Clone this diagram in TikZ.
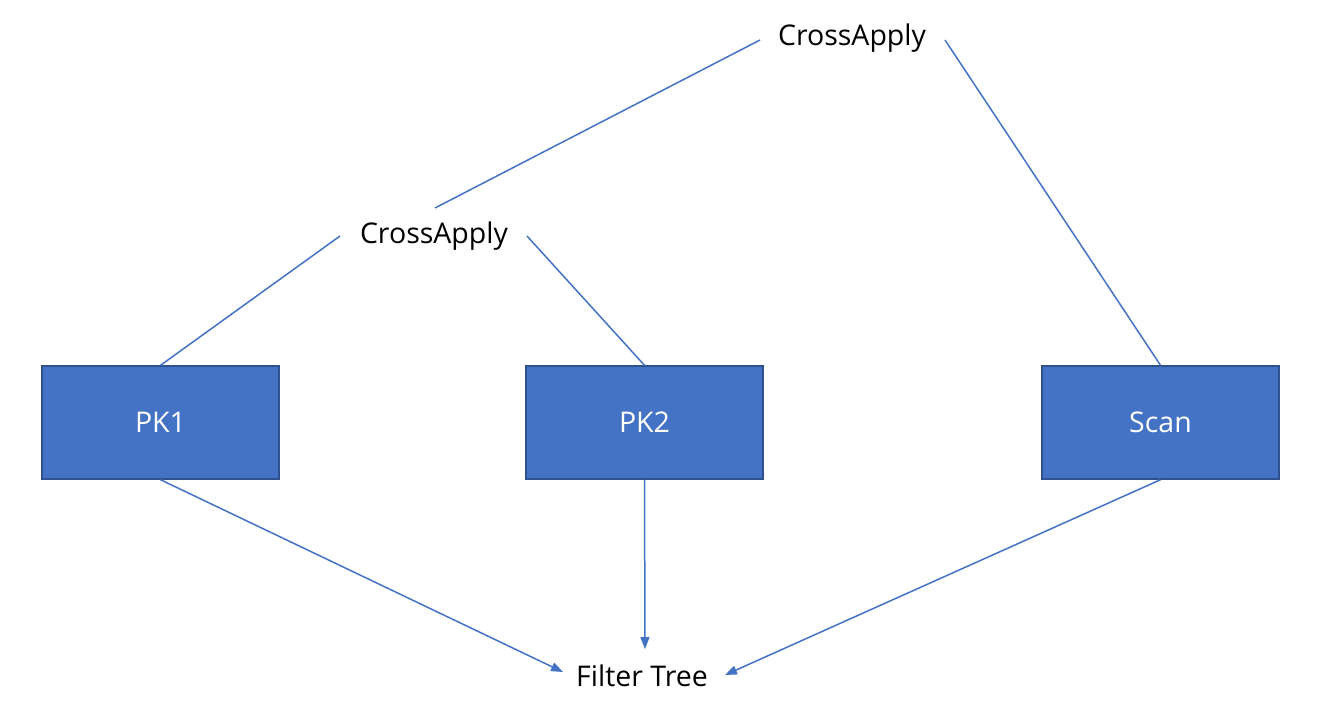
\documentclass[tikz,border=0pt]{standalone}
\usepackage{fontspec}
\setmainfont{Open Sans}
\usetikzlibrary{arrows.meta}
\definecolor{boxfill}{HTML}{4472C4}
\definecolor{boxline}{HTML}{2F528F}
\definecolor{edge}{HTML}{4472C4}
\begin{document}
\begin{tikzpicture}[x=1pt,y=-1pt,
  opbox/.style={draw=boxline,line width=1.4pt,fill=boxfill,minimum width=237pt,minimum height=113pt,inner sep=0pt,text=white,font=\fontsize{28.5}{34}\selectfont},
  label/.style={inner sep=0pt,font=\fontsize{28.5}{34}\selectfont},
  link/.style={draw=edge,line width=1.5pt},
  arr/.style={link,-{Triangle[length=12pt,width=9pt]}}]
\useasboundingbox (0,0) rectangle (1322,726);
\node[opbox] (pk1) at (160.5,422.5) {PK1};
\node[opbox] (pk2) at (644.5,422.5) {PK2};
\node[opbox] (scan) at (1160.5,422.5) {Scan};
\node[label] (ca1) at (852,38) {CrossApply};
\node[label] (ca2) at (434,236) {CrossApply};
\node[label] (ft) at (642,676) {Filter Tree};
\coordinate (ca1l) at (760,40);
\coordinate (ca1r) at (945,40);
\coordinate (ca2t) at (435,208);
\coordinate (ca2l) at (340,236);
\coordinate (ca2r) at (527,236);
\coordinate (ftl) at (563,672);
\coordinate (ftt) at (645,649);
\coordinate (ftr) at (725,675);
\draw[link] (ca1l) -- (ca2t);
\draw[link] (ca1r) -- (scan.north);
\draw[link] (ca2l) -- (pk1.north);
\draw[link] (ca2r) -- (pk2.north);
\draw[arr] (pk1.south) -- (ftl);
\draw[arr] (pk2.south) -- (ftt);
\draw[arr] (scan.south) -- (ftr);
\end{tikzpicture}
\end{document}
